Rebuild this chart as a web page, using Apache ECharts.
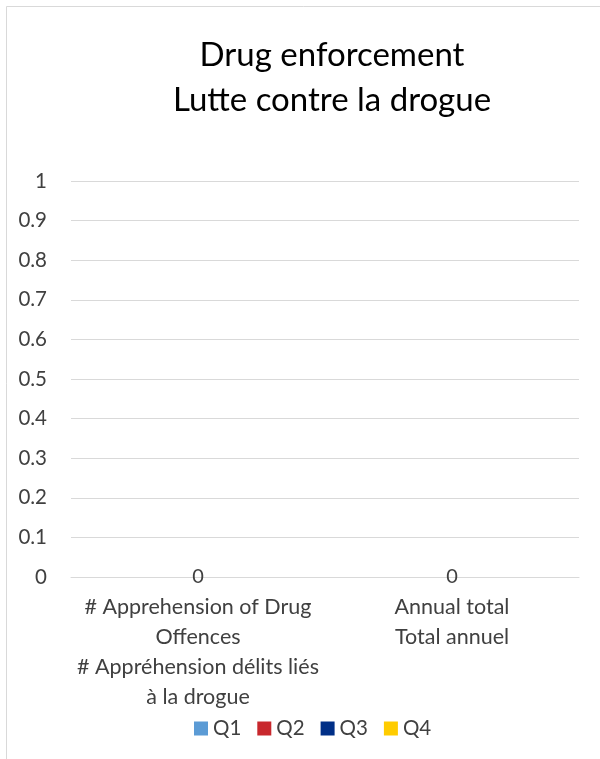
<!DOCTYPE html>
<html>
<head>
<meta charset="utf-8">
<script src="https://cdn.jsdelivr.net/npm/echarts@6/dist/echarts.min.js"></script>
<style>
html,body{margin:0;padding:0;background:#fff;}
#chart{width:600px;height:759px;}
</style>
</head>
<body>
<div id="chart"></div>
<script>
var titleText = "Drug enforcement\nLutte contre la drogue";
var categories = [
  "# Apprehension of Drug\nOffences\n# Appréhension délits liés\nà la drogue",
  "Annual total\nTotal annuel"
];
var seriesNames = ["Q1", "Q2", "Q3", "Q4"];
var seriesColors = ["#5B9BD5", "#C8282D", "#002F87", "#FFCC00"];
var q1 = [0, 0];
var q2 = [0, 0];
var q3 = [0, 0];
var q4 = [0, 0];
var seriesValues = [q1, q2, q3, q4];
var yMin = 0, yMax = 1, yStep = 0.1;

var FONT = "Lato, 'Open Sans', sans-serif";
var chart = echarts.init(document.getElementById('chart'));
var series = seriesNames.map(function (n, i) {
  return {
    name: n,
    type: 'bar',
    stack: 'total',
    data: seriesValues[i],
    itemStyle: { color: seriesColors[i] },
    barWidth: '40%',
    label: {
      show: i === seriesNames.length - 1,
      position: 'inside',
      color: '#404040',
      fontFamily: FONT,
      fontSize: 20
    }
  };
});
chart.setOption({
  animation: false,
  backgroundColor: '#ffffff',
  graphic: [{
    type: 'rect',
    shape: { x: 6.5, y: 6.5, width: 800, height: 900 },
    style: { fill: 'none', stroke: '#d9d9d9', lineWidth: 1 },
    silent: true
  }],
  title: {
    text: titleText,
    left: 327,
    top: 28,
    textAlign: 'center',
    textStyle: {
      fontFamily: FONT,
      fontSize: 33,
      fontWeight: 'normal',
      color: '#000000',
      lineHeight: 45
    }
  },
  legend: {
    data: seriesNames,
    left: 189,
    top: 713,
    itemWidth: 14,
    itemHeight: 14,
    itemGap: 16,
    icon: 'rect',
    textStyle: { fontFamily: FONT, fontSize: 20.5, color: '#404040' }
  },
  grid: { left: 71, right: 21, top: 181, bottom: 182, containLabel: false },
  xAxis: {
    type: 'category',
    data: categories,
    axisLine: { show: true, lineStyle: { color: '#d9d9d9', width: 1 } },
    axisTick: { show: false },
    axisLabel: {
      interval: 0,
      margin: 15,
      fontFamily: FONT,
      fontSize: 21.5,
      lineHeight: 30,
      color: '#404040',
      align: 'center'
    }
  },
  yAxis: {
    type: 'value',
    min: yMin,
    max: yMax,
    interval: yStep,
    axisLine: { show: false },
    axisTick: { show: false },
    splitLine: { lineStyle: { color: '#d9d9d9', width: 1 } },
    axisLabel: {
      margin: 24,
      fontFamily: FONT,
      fontSize: 20.5,
      color: '#404040',
      formatter: function (v) { return String(Math.round(v * 10) / 10); }
    }
  },
  series: series
});
</script>
</body>
</html>
